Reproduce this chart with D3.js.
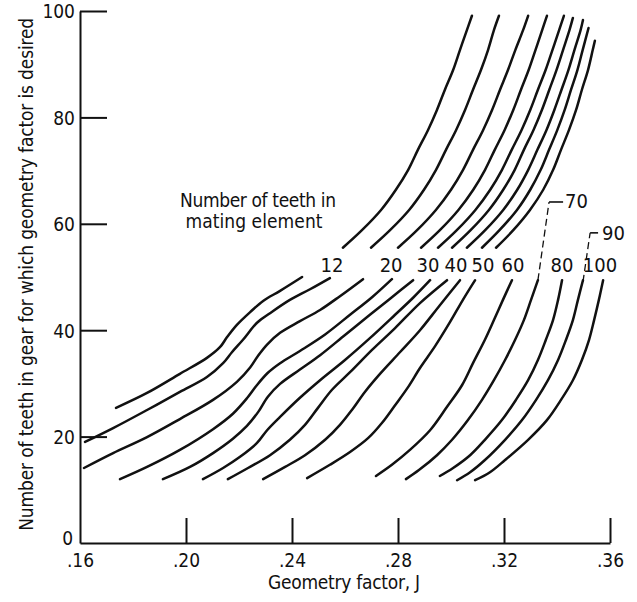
<!DOCTYPE html>
<html>
<head>
<meta charset="utf-8">
<script src="https://cdn.jsdelivr.net/npm/d3@7"></script>
<style>
  html, body { margin: 0; padding: 0; background: #fff; }
  svg { display: block; }
  text { font-family: "Liberation Sans Narrow", "DejaVu Sans Condensed", "Roboto Condensed", sans-serif; fill: #111; }
</style>
</head>
<body>
<svg id="chart" width="637" height="602"></svg>
<script>
// ---- data: x = geometry factor J, y = number of teeth in gear ----
const xTicks = [0.16, 0.20, 0.24, 0.28, 0.32, 0.36];
const xTickLabels = [".16", ".20", ".24", ".28", ".32", ".36"];
const yTicks = [0, 20, 40, 60, 80, 100];
const yTickLabels = ["0", "20", "40", "60", "80", "100"];

// lower branches (gear teeth ~12 to 50)
const lowerA = [[0.1736,25.4],[0.1853,28.2],[0.1977,31.8],[0.2079,34.8],[0.2128,36.8],[0.2155,38.7],[0.2192,41.0],[0.2242,43.4],[0.2291,45.5],[0.2355,47.4],[0.2438,50.0]];
const lowerB = [[0.1619,19.0],[0.1725,21.6],[0.1853,25.0],[0.1977,28.4],[0.2079,31.2],[0.2140,33.8],[0.2174,35.9],[0.2215,38.2],[0.2268,41.4],[0.2317,43.2],[0.2392,45.7],[0.2468,47.7],[0.2543,49.8]];
const lowerC = [[0.1615,14.1],[0.1725,16.9],[0.1853,19.9],[0.1977,23.3],[0.2102,26.9],[0.2192,30.3],[0.2242,33.0],[0.2272,35.2],[0.2306,37.3],[0.2355,39.5],[0.2430,41.7],[0.2506,43.8],[0.2581,46.4],[0.2668,49.6]];
const lowerD = [[0.1751,12.0],[0.1853,14.3],[0.1977,17.5],[0.2102,21.4],[0.2177,24.3],[0.2230,27.2],[0.2268,29.7],[0.2309,32.0],[0.2355,33.8],[0.2430,36.1],[0.2525,39.2],[0.2619,42.9],[0.2702,46.2],[0.2777,49.6]];
const lowerE = [[0.1913,12.0],[0.2015,14.3],[0.2102,16.9],[0.2177,19.6],[0.2230,22.0],[0.2272,24.6],[0.2309,27.5],[0.2355,29.9],[0.2430,32.6],[0.2506,35.3],[0.2600,39.1],[0.2694,42.9],[0.2777,46.2],[0.2857,49.4]];
const lowerF = [[0.2064,12.0],[0.2140,14.1],[0.2204,16.2],[0.2268,18.8],[0.2306,21.2],[0.2355,23.7],[0.2430,27.3],[0.2506,30.6],[0.2600,34.4],[0.2694,38.5],[0.2789,42.9],[0.2857,46.1],[0.2921,49.4]];
const lowerG = [[0.2158,12.0],[0.2234,14.1],[0.2317,16.5],[0.2392,19.4],[0.2449,22.2],[0.2498,25.4],[0.2551,28.8],[0.2619,32.1],[0.2702,36.3],[0.2789,40.4],[0.2883,45.1],[0.2985,49.4]];
const lowerH = [[0.2291,12.0],[0.2374,14.3],[0.2449,16.5],[0.2525,19.4],[0.2581,22.2],[0.2626,25.0],[0.2675,28.4],[0.2732,31.8],[0.2808,35.9],[0.2883,40.0],[0.2958,44.7],[0.3034,49.4]];
const lowerI = [[0.2457,12.2],[0.2543,14.7],[0.2619,17.1],[0.2687,19.7],[0.2740,22.6],[0.2789,25.9],[0.2838,29.3],[0.2883,32.9],[0.2940,37.0],[0.2996,41.5],[0.3045,45.7],[0.3091,49.4]];
const lowerJ = [[0.2717,12.6],[0.2777,14.7],[0.2845,17.5],[0.2921,21.2],[0.2985,25.6],[0.3042,29.7],[0.3083,33.8],[0.3128,38.2],[0.3162,41.9],[0.3196,45.7],[0.3230,49.4]];
const lowerK = [[0.2830,12.0],[0.2879,13.7],[0.2947,16.5],[0.3004,19.4],[0.3064,23.1],[0.3117,26.9],[0.3162,30.6],[0.3204,34.4],[0.3242,38.2],[0.3275,41.9],[0.3302,45.7],[0.3328,49.4]];
const lowerL = [[0.2958,12.6],[0.3008,14.1],[0.3072,16.5],[0.3128,19.4],[0.3192,23.1],[0.3245,26.9],[0.3291,30.6],[0.3328,34.4],[0.3358,38.2],[0.3385,41.9],[0.3404,45.7],[0.3419,49.4]];
const lowerM = [[0.3023,11.8],[0.3072,13.3],[0.3128,15.6],[0.3204,19.4],[0.3268,23.1],[0.3321,26.9],[0.3366,30.6],[0.3404,34.4],[0.3434,38.2],[0.3460,41.9],[0.3479,45.7],[0.3498,49.4]];
const lowerN = [[0.3091,11.8],[0.3147,13.3],[0.3204,15.6],[0.3291,19.4],[0.3362,23.1],[0.3415,26.9],[0.3460,30.6],[0.3494,34.4],[0.3521,38.2],[0.3540,41.9],[0.3558,45.7],[0.3574,49.4]];

// upper branches (gear teeth ~55 to 100)
const upperA = [[0.2592,55.5],[0.2664,58.8],[0.2736,62.6],[0.2792,66.4],[0.2838,70.1],[0.2875,73.9],[0.2913,77.6],[0.2947,81.4],[0.2977,85.2],[0.3008,88.9],[0.3034,92.7],[0.3060,96.4],[0.3079,99.1]];
const upperB = [[0.2698,55.5],[0.2770,58.8],[0.2842,62.6],[0.2898,66.4],[0.2943,70.1],[0.2981,73.9],[0.3019,77.6],[0.3053,81.4],[0.3083,85.2],[0.3113,88.9],[0.3140,92.7],[0.3162,96.4],[0.3181,99.1]];
const upperC = [[0.2800,55.5],[0.2872,58.8],[0.2943,62.6],[0.3000,66.4],[0.3045,70.1],[0.3083,73.9],[0.3121,77.6],[0.3155,81.4],[0.3185,85.2],[0.3215,88.9],[0.3243,92.7],[0.3272,96.4],[0.3291,99.1]];
const upperD = [[0.2887,55.5],[0.2958,58.8],[0.3028,62.6],[0.3084,66.4],[0.3128,70.1],[0.3165,73.9],[0.3202,77.6],[0.3235,81.4],[0.3264,85.2],[0.3293,88.9],[0.3319,92.7],[0.3344,96.4],[0.3362,99.1]];
const upperE = [[0.2951,55.5],[0.3022,58.8],[0.3092,62.6],[0.3148,66.4],[0.3192,70.1],[0.3229,73.9],[0.3266,77.6],[0.3299,81.4],[0.3328,85.2],[0.3357,88.9],[0.3383,92.7],[0.3408,96.4],[0.3426,99.1]];
const upperF = [[0.3004,55.5],[0.3074,58.8],[0.3143,62.6],[0.3197,66.4],[0.3240,70.1],[0.3275,73.9],[0.3311,77.6],[0.3343,81.4],[0.3371,85.2],[0.3398,88.9],[0.3423,92.7],[0.3447,96.4],[0.3460,98.7]];
const upperG = [[0.3060,55.5],[0.3129,58.8],[0.3197,62.6],[0.3250,66.4],[0.3291,70.1],[0.3326,73.9],[0.3360,77.6],[0.3390,81.4],[0.3417,85.2],[0.3443,88.9],[0.3466,92.7],[0.3489,96.4],[0.3498,98.3]];
const upperH = [[0.3117,55.5],[0.3183,58.8],[0.3249,62.6],[0.3299,66.4],[0.3338,70.1],[0.3370,73.9],[0.3401,77.6],[0.3429,81.4],[0.3453,85.2],[0.3477,88.9],[0.3497,92.7],[0.3519,96.8]];
const upperI = [[0.3170,55.5],[0.3235,58.8],[0.3298,62.6],[0.3348,66.4],[0.3385,70.1],[0.3415,73.9],[0.3445,77.6],[0.3472,81.4],[0.3494,85.2],[0.3517,88.9],[0.3535,92.7],[0.3543,94.4]];

// curve labels (number of teeth in mating element) placed in the gap
const curveLabels = ["12", "20", "30", "40", "50", "60", "80", "100"];
const curveLabelJ = [0.2551, 0.2774, 0.2913, 0.3019, 0.3121, 0.3234, 0.3419, 0.3562];
const curveLabelN = 50.9;
// labels with dashed leaders
const leaderLabels = ["70", "90"];
const leaderTextJ = [0.3430, 0.3570];
const leaderTextN = [63.0, 57.0];
const leaderPath70 = [[0.3328, 49.4], [0.3370, 64.1], [0.3423, 64.1]];
const leaderPath90 = [[0.3498, 49.1], [0.3525, 58.3], [0.3555, 58.3]];

const lowerSeries = [lowerA, lowerB, lowerC, lowerD, lowerE, lowerF, lowerG, lowerH, lowerI, lowerJ, lowerK, lowerL, lowerM, lowerN];
const upperSeries = [upperA, upperB, upperC, upperD, upperE, upperF, upperG, upperH, upperI];

// ---- drawing ----
const svg = d3.select("#chart");
const x = d3.scaleLinear().domain([0.16, 0.36]).range([80, 610]);
const y = d3.scaleLinear().domain([0, 100]).range([543, 11]);

const line = d3.line().x(d => x(d[0])).y(d => y(d[1])).curve(d3.curveCatmullRom.alpha(0.5));

svg.append("g").selectAll("path")
  .data(lowerSeries.concat(upperSeries))
  .join("path")
  .attr("d", line)
  .attr("fill", "none")
  .attr("stroke", "#111")
  .attr("stroke-width", 2.5)
  .attr("stroke-linecap", "round");

// axes
const yAxis = d3.axisLeft(y).tickValues(yTicks).tickFormat((d, i) => yTickLabels[i])
  .tickSizeInner(-27).tickSizeOuter(0).tickPadding(5);
const gy = svg.append("g").attr("transform", "translate(80,0)").call(yAxis);

const xAxis = d3.axisBottom(x).tickValues(xTicks).tickFormat((d, i) => xTickLabels[i])
  .tickSizeInner(-25).tickSizeOuter(0).tickPadding(11);
const gx = svg.append("g").attr("transform", "translate(0,543)").call(xAxis);

[gx, gy].forEach(g => {
  g.select(".domain").attr("stroke", "#111").attr("stroke-width", 2);
  g.selectAll(".tick line").attr("stroke", "#111").attr("stroke-width", 2);
  g.selectAll(".tick text").attr("font-size", 19).attr("fill", "#111")
    .style("font-family", '"Liberation Sans Narrow", "DejaVu Sans Condensed", sans-serif');
});
gx.selectAll(".tick").filter(d => d === 0.16).select("line").remove();
gy.selectAll(".tick").filter(d => d === 0).select("line").remove();
gy.selectAll(".tick text").attr("dy", "0.36em");
// the "0" label sits just above the corner, clear of ".16"
gy.selectAll(".tick").filter(d => d === 0).select("text").attr("dy", "0.1em").attr("x", -7);

// axis titles
svg.append("text")
  .attr("transform", "translate(33," + y(50.5) + ") rotate(-90)")
  .attr("text-anchor", "middle")
  .attr("font-size", 19)
  .attr("textLength", 513).attr("lengthAdjust", "spacing")
  .text("Number of teeth in gear for which geometry factor is desired");

svg.append("text")
  .attr("x", 344).attr("y", 589)
  .attr("text-anchor", "middle")
  .attr("font-size", 19)
  .attr("textLength", 152).attr("lengthAdjust", "spacing")
  .text("Geometry factor, J");

// caption
svg.append("text").attr("x", 258).attr("y", 207).attr("text-anchor", "middle")
  .attr("font-size", 19).attr("textLength", 156).attr("lengthAdjust", "spacing")
  .text("Number of teeth in");
svg.append("text").attr("x", 254).attr("y", 228).attr("text-anchor", "middle")
  .attr("font-size", 19).attr("textLength", 137).attr("lengthAdjust", "spacing")
  .text("mating element");

// curve labels
svg.append("g").selectAll("text")
  .data(curveLabels)
  .join("text")
  .attr("x", (d, i) => x(curveLabelJ[i]))
  .attr("y", y(curveLabelN))
  .attr("text-anchor", "middle")
  .attr("font-size", 20)
  .text(d => d);

svg.append("g").selectAll("text")
  .data(leaderLabels)
  .join("text")
  .attr("x", (d, i) => x(leaderTextJ[i]))
  .attr("y", (d, i) => y(leaderTextN[i]))
  .attr("font-size", 20)
  .text(d => d);

const straight = d3.line().x(d => x(d[0])).y(d => y(d[1]));
[leaderPath70, leaderPath90].forEach(p => {
  svg.append("path").attr("d", straight(p.slice(0, 2)))
    .attr("fill", "none").attr("stroke", "#111").attr("stroke-width", 1.3)
    .attr("stroke-dasharray", "7,4");
  svg.append("path").attr("d", straight(p.slice(1)))
    .attr("fill", "none").attr("stroke", "#111").attr("stroke-width", 1.6);
});
</script>
</body>
</html>
